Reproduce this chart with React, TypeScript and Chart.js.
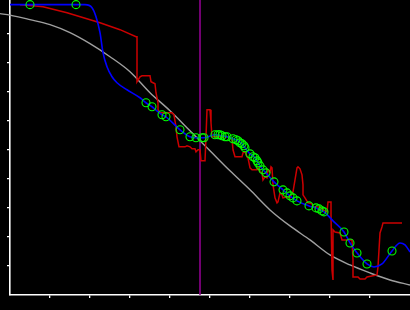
import React, { useEffect, useRef } from "react";
import { Chart, registerables } from "chart.js";

Chart.register(...registerables);

// Axis tick values (no labels shown)
const xTickValues = [10, 20, 30, 40, 50, 60, 70, 80, 90];
const yTickValues = [10, 20, 30, 40, 50, 60, 70, 80, 90];

// Gray smooth reference curve
const grayX = [-2.5, 0, 5, 10, 15, 20, 25, 30, 35, 40, 45, 50, 55, 60, 65, 70, 75, 80, 85, 90, 95, 100];
const grayY = [96.9, 96.38, 94.83, 93.1, 90.34, 86.55, 82.07, 76.9, 69.66, 63.45, 56.55, 49.66, 42.76, 36.21, 29.31, 23.79, 18.97, 13.79, 10.34, 7.59, 5.17, 3.45];

// Blue fitted line
const blueX = [0, 5, 12.5, 16.5, 18.75, 20.5, 21.5, 22.5, 23.25, 24.25, 25.5, 26.75, 29.25, 32.5, 34, 35.5, 38, 39, 42.5, 45, 46.5, 48.5, 51.25, 53, 54.25, 55.75, 57, 58, 58.75, 60, 61.25, 62, 63.25, 64, 66, 68.25, 70, 71.75, 74.75, 76.5, 78, 78.5, 81, 83.5, 85, 86.75, 89.25, 91, 93, 95.5, 97.5, 98.75, 100];
const blueY = [100, 100, 100, 100, 100, 98.97, 95.86, 90.34, 83.45, 78.62, 75.17, 73.1, 70.69, 67.93, 66.21, 64.83, 62.07, 61.38, 56.9, 54.48, 54.14, 54.14, 55.17, 54.83, 54.48, 53.79, 53.1, 52.07, 50.69, 48.62, 47.24, 45.52, 43.1, 42.07, 38.97, 36.21, 34.14, 32.41, 30.69, 30.0, 28.97, 28.62, 25.17, 21.72, 17.93, 14.48, 10.69, 9.66, 10.69, 15.17, 17.93, 17.24, 14.83];

// Green observation markers
const obsX = [5, 16.5, 34, 35.5, 38, 39, 42.5, 45, 46.5, 48, 48.5, 51.25, 52, 52.5, 53, 53.75, 54.25, 55.75, 56.5, 57, 57.5, 58, 58.5, 58.75, 60, 60.75, 61.25, 61.75, 62, 62.5, 63.25, 64, 66, 68.25, 69.25, 70, 70.75, 71.75, 74.75, 76.5, 77.25, 78, 78.5, 83.5, 85, 86.75, 89.25, 95.5];
const obsY = [100, 100, 66.21, 64.83, 62.07, 61.38, 56.9, 54.48, 54.14, 54.14, 54.14, 55.17, 55.17, 55.17, 54.83, 54.48, 54.48, 53.79, 53.45, 53.1, 52.41, 52.07, 51.38, 50.69, 48.62, 47.59, 47.24, 46.21, 45.52, 44.48, 43.1, 42.07, 38.97, 36.21, 35.17, 34.14, 33.45, 32.41, 30.69, 30.0, 29.66, 28.97, 28.62, 21.72, 17.93, 14.48, 10.69, 15.17];

// Red noisy step line
const redX = [2.5, 5.75, 8.25, 14.25, 22.5, 27.5, 31.5, 31.75, 31.75, 32.5, 33, 35, 35.25, 35.75, 36.25, 36.5, 37, 37, 37.5, 40.5, 41, 41.5, 41.75, 42.25, 43.75, 44.25, 45, 45.5, 46.25, 46.5, 47, 47.5, 47.75, 48.75, 49, 49.25, 50, 50.25, 50.5, 54.5, 55.5, 55.75, 56.25, 58, 58.25, 58.75, 59.25, 59.5, 60, 60.5, 61.75, 62, 62.5, 63, 63.25, 63.75, 64.25, 64.5, 65, 65.25, 65.5, 65.75, 66.25, 66.75, 67, 67.5, 68, 68.25, 69.25, 70, 70.75, 71.25, 71.75, 72, 72.5, 73, 73.25, 73.25, 73.75, 74.5, 75.5, 75.75, 77.5, 78.25, 79.25, 79.5, 80.25, 80.25, 80.5, 80.75, 80.75, 81.25, 82.5, 83, 85.5, 85.75, 85.75, 87, 87.5, 88.75, 89.25, 91.75, 92, 92.5, 93, 93.25, 98];
const redY = [100, 99.66, 99.31, 97.24, 93.79, 91.38, 88.97, 88.97, 73.45, 75.17, 75.52, 75.52, 73.45, 73.1, 72.76, 69.66, 66.21, 63.79, 62.76, 62.76, 62.07, 57.93, 54.48, 51.03, 51.03, 51.38, 51.03, 50.34, 50.34, 49.31, 50.0, 50.0, 46.21, 46.21, 54.48, 63.79, 63.79, 59.31, 54.48, 54.48, 53.79, 50.0, 47.59, 47.59, 48.97, 49.31, 47.59, 47.24, 43.79, 43.1, 43.1, 43.79, 42.41, 42.07, 39.66, 40.69, 40.34, 43.1, 42.41, 44.14, 43.79, 37.93, 33.45, 31.72, 32.07, 35.17, 34.48, 33.45, 33.79, 33.45, 35.52, 39.66, 43.79, 44.14, 43.45, 41.38, 37.93, 34.48, 33.45, 31.72, 31.38, 30.34, 30.34, 29.31, 28.62, 32.07, 32.07, 27.59, 8.62, 5.17, 22.41, 21.72, 21.38, 18.97, 18.97, 12.07, 6.21, 6.21, 5.52, 5.52, 6.21, 6.9, 9.66, 21.38, 23.45, 24.83, 24.83];

// Vertical marker
const markerX = [47.5, 47.5];
const markerY = [0, 101.6];

const X_MIN = 0;
const X_MAX = 100;
const Y_MIN = 0;
const Y_MAX = 101.6;

const toPoints = (xs: number[], ys: number[]) => xs.map((x, i) => ({ x, y: ys[i] }));

export default function App() {
  const ref = useRef<HTMLCanvasElement | null>(null);

  useEffect(() => {
    document.body.style.margin = "0";
    document.body.style.background = "#000";
    const canvas = ref.current;
    if (!canvas) return;

    const axisCommon = {
      type: "linear" as const,
      ticks: { display: false },
      grid: {
        drawOnChartArea: false,
        drawTicks: true,
        tickLength: 3,
        tickColor: "#ffffff",
        lineWidth: 1.3,
      },
      border: { color: "#ffffff", width: 1.6 },
    };

    const chart = new Chart(canvas, {
      type: "line",
      data: {
        datasets: [
          {
            data: toPoints(obsX, obsY),
            showLine: false,
            pointRadius: 4,
            pointBorderWidth: 1.1,
            pointBorderColor: "#00ff00",
            pointBackgroundColor: "rgba(0,0,0,0)",
            order: 0,
          },
          {
            data: toPoints(blueX, blueY),
            borderColor: "#0000ff",
            borderWidth: 1.6,
            pointRadius: 0,
            cubicInterpolationMode: "monotone",
            order: 1,
          },
          {
            data: toPoints(redX, redY),
            borderColor: "#cc0000",
            borderWidth: 1.5,
            pointRadius: 0,
            tension: 0,
            order: 2,
          },
          {
            data: toPoints(markerX, markerY),
            borderColor: "#990099",
            borderWidth: 1.5,
            pointRadius: 0,
            order: 3,
          },
          {
            data: toPoints(grayX, grayY),
            borderColor: "#a0a0a0",
            borderWidth: 1.4,
            pointRadius: 0,
            cubicInterpolationMode: "monotone",
            clip: false as any,
            order: 4,
          },
        ],
      },
      options: {
        animation: false,
        responsive: false,
        events: [],
        layout: {
          autoPadding: false,
          padding: { left: 7, right: 0, top: 0, bottom: 12 },
        },
        plugins: {
          legend: { display: false },
          tooltip: { enabled: false },
          title: { display: false },
        },
        scales: {
          x: {
            ...axisCommon,
            position: "bottom",
            min: X_MIN,
            max: X_MAX,
            afterBuildTicks: (scale: any) => {
              scale.ticks = xTickValues.map((v) => ({ value: v }));
            },
          },
          y: {
            ...axisCommon,
            position: "left",
            min: Y_MIN,
            max: Y_MAX,
            afterBuildTicks: (scale: any) => {
              scale.ticks = yTickValues.map((v) => ({ value: v }));
            },
          },
        },
      } as any,
    });

    return () => chart.destroy();
  }, []);

  return (
    <div style={{ position: "fixed", left: 0, top: 0, width: 410, height: 310, background: "#000" }}>
      <canvas ref={ref} width={410} height={310} style={{ display: "block", background: "#000" }} />
    </div>
  );
}
